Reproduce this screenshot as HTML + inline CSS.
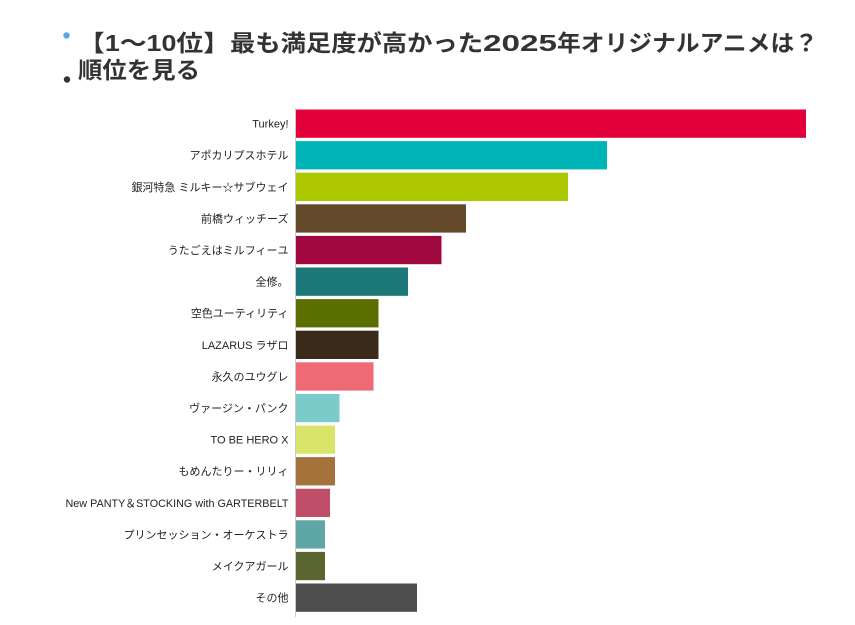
<!DOCTYPE html>
<html>
<head>
<meta charset="utf-8">
<style>
html,body{margin:0;padding:0;background:#fff;}
svg{display:block;}
</style>
</head>
<body>
<svg width="855" height="625" viewBox="0 0 855 625" xmlns="http://www.w3.org/2000/svg">
  <rect x="0" y="0" width="855" height="625" fill="#ffffff"/>
  <!-- title bullets -->
  <circle cx="66.5" cy="35.5" r="3.2" fill="#5aa9e6"/>
  <circle cx="67" cy="79.5" r="3.2" fill="#333333"/>
  <g font-family="'Liberation Sans','Noto Sans CJK JP',sans-serif" font-weight="bold" font-size="23" fill="#333333">
    <text x="78" y="51" textLength="152" lengthAdjust="spacingAndGlyphs">【1～10位】</text>
    <text x="230" y="51" textLength="253" lengthAdjust="spacingAndGlyphs">最も満足度が高かった</text>
    <text x="483" y="51" textLength="74" lengthAdjust="spacingAndGlyphs">2025</text>
    <text x="557" y="51" textLength="261" lengthAdjust="spacingAndGlyphs">年オリジナルアニメは？</text>
    <text x="78" y="78" textLength="122" lengthAdjust="spacingAndGlyphs">順位を見る</text>
  </g>
  <!-- axis -->
  <line x1="295.5" y1="108" x2="295.5" y2="617" stroke="#cccccc" stroke-width="1"/>
  <!-- bars -->
  <g>
    <rect x="296" y="109.5" width="510" height="28.3" fill="#e4003a"/>
    <rect x="296" y="141.1" width="311" height="28.3" fill="#00b5b8"/>
    <rect x="296" y="172.7" width="272" height="28.3" fill="#aec800"/>
    <rect x="296" y="204.3" width="170" height="28.3" fill="#62492a"/>
    <rect x="296" y="235.9" width="145.5" height="28.3" fill="#a20840"/>
    <rect x="296" y="267.5" width="112" height="28.3" fill="#1a7878"/>
    <rect x="296" y="299.1" width="82.5" height="28.3" fill="#5b6e00"/>
    <rect x="296" y="330.7" width="82.5" height="28.3" fill="#3a2a1a"/>
    <rect x="296" y="362.3" width="77.5" height="28.3" fill="#ee6a75"/>
    <rect x="296" y="393.9" width="43.5" height="28.3" fill="#7bcbcb"/>
    <rect x="296" y="425.5" width="39" height="28.3" fill="#d9e46a"/>
    <rect x="296" y="457.1" width="39" height="28.3" fill="#a4723a"/>
    <rect x="296" y="488.7" width="34" height="28.3" fill="#c04e68"/>
    <rect x="296" y="520.3" width="29" height="28.3" fill="#5fa6a6"/>
    <rect x="296" y="551.9" width="29" height="28.3" fill="#5a6530"/>
    <rect x="296" y="583.5" width="121" height="28.3" fill="#4d4d4d"/>
  </g>
  <!-- labels -->
  <g font-family="'Liberation Sans','Noto Sans CJK JP',sans-serif" font-size="11" fill="#222222" text-anchor="end">
    <text x="288.5" y="127.6">Turkey!</text>
    <text x="288.5" y="159.2">アポカリプスホテル</text>
    <text x="288.5" y="190.8">銀河特急 ミルキー☆サブウェイ</text>
    <text x="288.5" y="222.4">前橋ウィッチーズ</text>
    <text x="288.5" y="254.0">うたごえはミルフィーユ</text>
    <text x="288.5" y="285.6">全修。</text>
    <text x="288.5" y="317.2">空色ユーティリティ</text>
    <text x="288.5" y="348.8">LAZARUS ラザロ</text>
    <text x="288.5" y="380.4">永久のユウグレ</text>
    <text x="288.5" y="412.0">ヴァージン・パンク</text>
    <text x="288.5" y="443.6">TO BE HERO X</text>
    <text x="288.5" y="475.2">もめんたりー・リリィ</text>
    <text x="288.5" y="506.8" textLength="223" lengthAdjust="spacingAndGlyphs">New PANTY＆STOCKING with GARTERBELT</text>
    <text x="288.5" y="538.4">プリンセッション・オーケストラ</text>
    <text x="288.5" y="570.0">メイクアガール</text>
    <text x="288.5" y="601.6">その他</text>
  </g>
</svg>
</body>
</html>
